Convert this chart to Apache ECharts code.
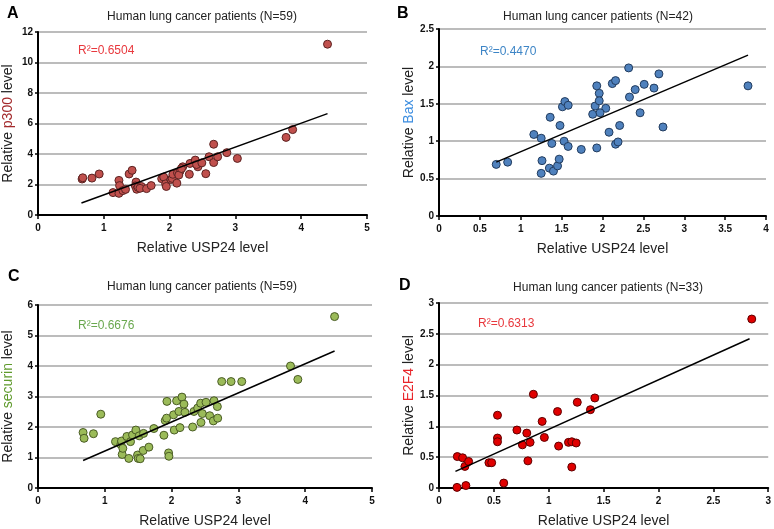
<!DOCTYPE html>
<html>
<head>
<meta charset="utf-8">
<script src="https://cdn.jsdelivr.net/npm/echarts@6/dist/echarts.min.js"></script>
<style>
  html, body { margin: 0; padding: 0; background: #fff; }
  #main { width: 774px; height: 529px; }
</style>
</head>
<body>
<div id="main"></div>
<script>
// panel A: USP24 vs p300
const pointsA = [
  [0.67, 2.36], [0.68, 2.44], [0.82, 2.42], [0.93, 2.69], [1.14, 1.47], [1.23, 2.27],
  [1.24, 1.93], [1.23, 1.42], [1.29, 1.60], [1.33, 1.68], [1.385, 2.69], [1.43, 2.93],
  [1.49, 2.16], [1.48, 1.91], [1.50, 1.69], [1.52, 1.82], [1.57, 1.87], [1.55, 1.75],
  [1.65, 1.73], [1.72, 1.93], [1.88, 2.38], [1.91, 2.49], [1.94, 2.04], [1.95, 1.87],
  [2.02, 2.33], [2.04, 2.40], [2.05, 2.67], [2.11, 2.09], [2.12, 2.76], [2.16, 2.89],
  [2.14, 2.62], [2.20, 3.16], [2.18, 3.05], [2.30, 2.67], [2.31, 3.38], [2.39, 3.60],
  [2.43, 3.16], [2.41, 3.31], [2.49, 3.42], [2.55, 2.71], [2.60, 3.82], [2.67, 4.64],
  [2.67, 3.44], [2.73, 3.82], [2.87, 4.09], [3.03, 3.71], [3.77, 5.09], [3.87, 5.60],
  [4.40, 11.2]
];
const trendA = [[0.66, 0.79], [4.40, 6.65]];

// panel B: USP24 vs Bax
const pointsB = [
  [0.70, 0.69], [0.84, 0.72], [1.16, 1.09], [1.25, 1.04], [1.26, 0.74], [1.25, 0.57],
  [1.35, 0.64], [1.36, 1.32], [1.38, 0.97], [1.40, 0.60], [1.45, 0.67], [1.47, 0.76],
  [1.48, 1.21], [1.51, 1.46], [1.54, 1.53], [1.58, 1.48], [1.53, 1.00], [1.58, 0.93],
  [1.74, 0.89], [1.88, 1.36], [1.91, 1.47], [1.93, 0.91], [1.93, 1.74], [1.96, 1.64],
  [1.96, 1.54], [2.04, 1.44], [1.97, 1.38], [2.08, 1.12], [2.12, 1.77], [2.16, 1.81],
  [2.16, 0.96], [2.19, 0.99], [2.21, 1.21], [2.32, 1.98], [2.33, 1.59], [2.40, 1.69],
  [2.46, 1.38], [2.51, 1.76], [2.63, 1.71], [2.69, 1.90], [2.74, 1.19], [3.78, 1.74]
];
const trendB = [[0.70, 0.72], [3.78, 2.15]];

// panel C: USP24 vs securin
const pointsC = [
  [0.675, 1.82], [0.69, 1.63], [0.83, 1.78], [0.94, 2.42], [1.16, 1.52], [1.24, 1.43],
  [1.25, 1.54], [1.26, 1.10], [1.27, 1.30], [1.33, 1.69], [1.36, 0.97], [1.385, 1.52],
  [1.415, 1.74], [1.465, 1.90], [1.49, 1.08], [1.50, 0.97], [1.53, 0.96], [1.515, 1.71],
  [1.575, 1.23], [1.58, 1.79], [1.66, 1.34], [1.735, 1.95], [1.885, 1.73], [1.905, 2.21],
  [1.93, 2.84], [1.955, 1.15], [1.96, 1.04], [1.925, 2.29], [2.04, 1.90], [2.03, 2.40],
  [2.075, 2.86], [2.11, 2.51], [2.125, 1.98], [2.155, 2.98], [2.185, 2.75], [2.20, 2.48],
  [2.315, 2.00], [2.335, 2.51], [2.39, 2.62], [2.435, 2.78], [2.44, 2.15], [2.46, 2.44],
  [2.515, 2.81], [2.57, 2.37], [2.625, 2.20], [2.635, 2.86], [2.685, 2.67], [2.69, 2.29],
  [2.75, 3.49], [2.89, 3.49], [3.05, 3.49], [3.78, 4.00], [3.89, 3.56], [4.44, 5.62]
];
const trendC = [[0.675, 0.90], [4.44, 4.49]];

// panel D: USP24 vs E2F4
const pointsD = [
  [0.167, 0.51], [0.215, 0.49], [0.236, 0.35], [0.27, 0.43], [0.164, 0.01], [0.245, 0.04],
  [0.455, 0.41], [0.48, 0.41], [0.533, 1.18], [0.533, 0.81], [0.533, 0.75], [0.59, 0.08],
  [0.71, 0.94], [0.76, 0.70], [0.80, 0.89], [0.81, 0.44], [0.83, 0.74], [0.86, 1.52],
  [0.94, 1.08], [0.96, 0.82], [1.08, 1.24], [1.09, 0.68], [1.18, 0.74], [1.21, 0.75],
  [1.21, 0.34], [1.25, 0.73], [1.26, 1.39], [1.38, 1.27], [1.42, 1.46], [2.85, 2.74]
];
const trendD = [[0.15, 0.27], [2.83, 2.42]];

const titles = [
  'Human lung cancer patients (N=59)',
  'Human lung cancer patients (N=42)',
  'Human lung cancer patients (N=59)',
  'Human lung cancer patients (N=33)'
];
const rSquared = ['R²=0.6504', 'R²=0.4470', 'R²=0.6676', 'R²=0.6313'];
const markers = ['p300', 'Bax', 'securin', 'E2F4'];

const font = 'Arial, "Liberation Sans", sans-serif';
const myChart = echarts.init(document.getElementById('main'));

const grids = [
  { left: 38, right: 407, top: 32, height: 183 },
  { left: 439, right: 8, top: 29, height: 187 },
  { left: 38, right: 402, top: 305, height: 185 },
  { left: 439, right: 5, top: 303, height: 186 }
];
const dotColors = ['#c0504d', '#4f81bd', '#9bbb59', '#e00000'];
const dotBorders = ['#5c2322', '#223c5e', '#4a5c25', '#5e0000'];
const accent = ['#e8383d', '#3d85c6', '#6aa84f', '#e8383d'];
const nameAccent = ['#a3292b', '#3d8ee0', '#5f9a2c', '#e8262b'];

function xAxis(i, max, interval) {
  return {
    gridIndex: i, type: 'value', min: 0, max: max, interval: interval,
    name: 'Relative USP24 level', nameLocation: 'middle', nameGap: 26,
    nameTextStyle: { fontFamily: font, fontSize: 14, color: '#222' },
    axisLine: { lineStyle: { color: '#000', width: 2 } },
    axisTick: { show: true, length: 4, lineStyle: { color: '#000', width: 1.5 } },
    axisLabel: { fontFamily: font, fontSize: 10, fontWeight: 'bold', color: '#111', margin: 8 },
    splitLine: { show: false }
  };
}
function yAxis(i, max, interval) {
  return {
    gridIndex: i, type: 'value', min: 0, max: max, interval: interval,
    name: '{a|Relative }{b|' + markers[i] + '}{a| level}',
    nameLocation: 'middle', nameGap: 23,
    nameTextStyle: {
      rich: {
        a: { fontFamily: font, fontSize: 14, color: '#222' },
        b: { fontFamily: font, fontSize: 14, color: nameAccent[i] }
      }
    },
    axisLine: { show: true, lineStyle: { color: '#000', width: 2 } },
    axisTick: { show: true, length: 3, lineStyle: { color: '#000', width: 1.5 } },
    axisLabel: { fontFamily: font, fontSize: 10, fontWeight: 'bold', color: '#111', margin: 5 },
    splitLine: { show: true, lineStyle: { color: '#a6a6a6', width: 1.5 } }
  };
}

const allPoints = [pointsA, pointsB, pointsC, pointsD];
const allTrends = [trendA, trendB, trendC, trendD];
const series = [];
allPoints.forEach((pts, i) => {
  series.push({
    type: 'scatter', xAxisIndex: i, yAxisIndex: i, data: pts,
    symbolSize: 8,
    itemStyle: { color: dotColors[i], borderColor: dotBorders[i], borderWidth: 1, opacity: 1 }
  });
  series.push({
    type: 'line', xAxisIndex: i, yAxisIndex: i, data: allTrends[i],
    symbol: 'none', lineStyle: { color: '#000', width: 1.5 }, z: 3
  });
});

const titlePos = [[197, 6], [593, 6], [197, 276], [603, 277]];
const letterPos = [[2, 1], [392, 1], [3, 264], [394, 273]];
const rPos = [[73, 40], [475, 41], [73, 315], [473, 313]];
const letters = ['A', 'B', 'C', 'D'];
const title = [];
titles.forEach((t, i) => {
  title.push({
    text: t, left: titlePos[i][0], top: titlePos[i][1], textAlign: 'center',
    textStyle: { fontFamily: font, fontSize: 12, fontWeight: 'normal', color: '#222' }
  });
  title.push({
    text: letters[i], left: letterPos[i][0], top: letterPos[i][1],
    textStyle: { fontFamily: font, fontSize: 16, fontWeight: 'bold', color: '#000' }
  });
  title.push({
    text: rSquared[i], left: rPos[i][0], top: rPos[i][1],
    textStyle: { fontFamily: font, fontSize: 12, fontWeight: 'normal', color: accent[i] }
  });
});

const option = {
  animation: false,
  backgroundColor: '#fff',
  title: title,
  grid: grids,
  xAxis: [xAxis(0, 5, 1), xAxis(1, 4, 0.5), xAxis(2, 5, 1), xAxis(3, 3, 0.5)],
  yAxis: [yAxis(0, 12, 2), yAxis(1, 2.5, 0.5), yAxis(2, 6, 1), yAxis(3, 3, 0.5)],
  series: series
};
option && myChart.setOption(option);
</script>
</body>
</html>
